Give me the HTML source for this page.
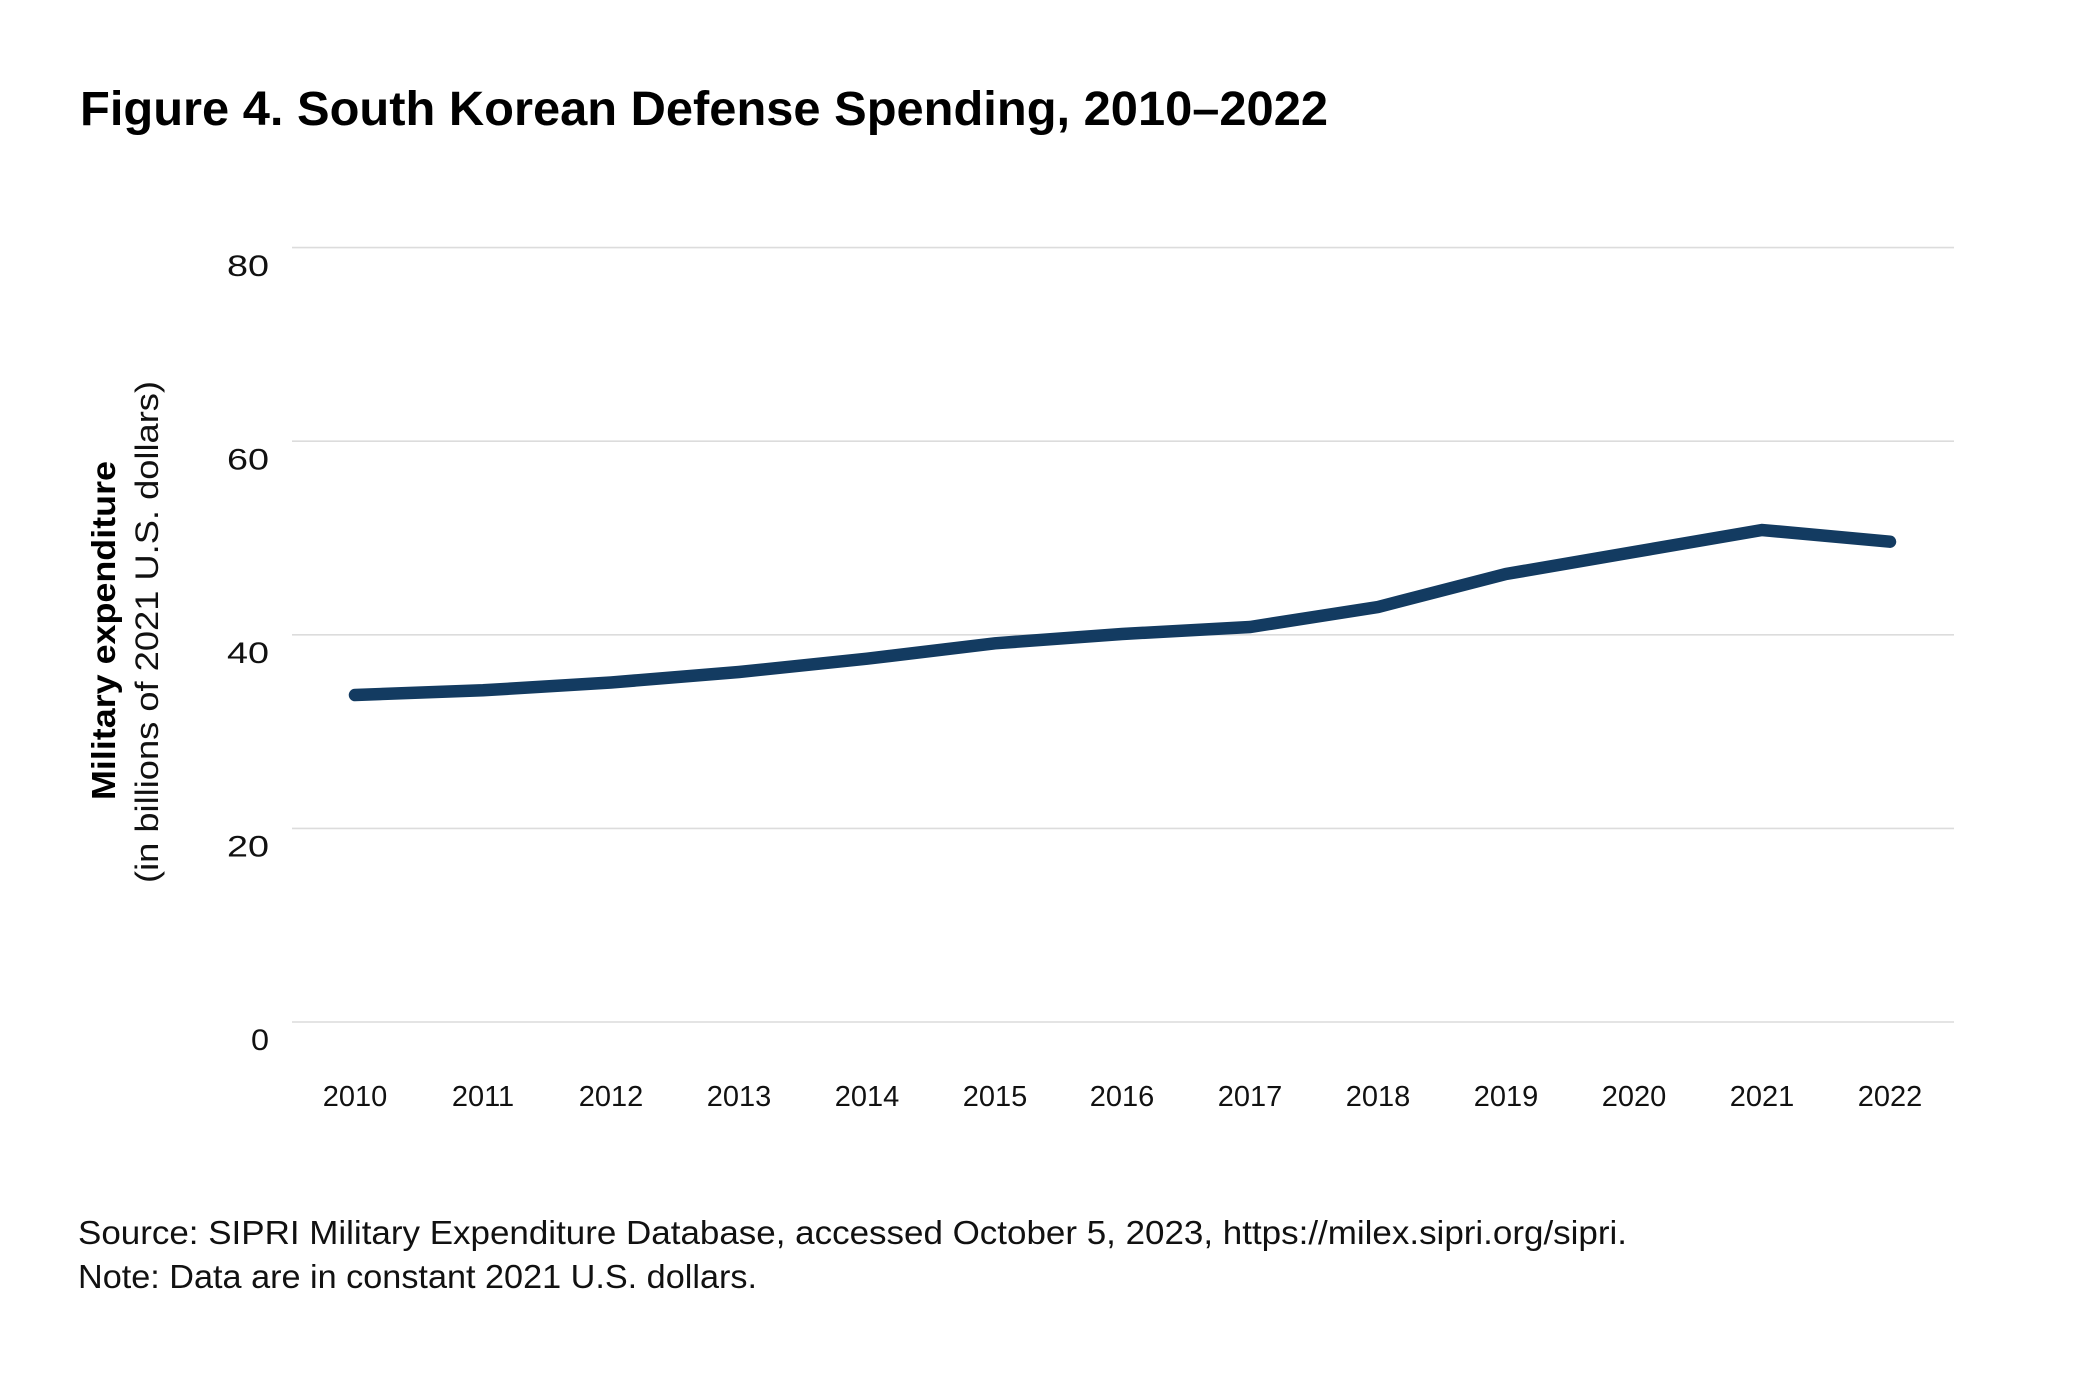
<!DOCTYPE html>
<html>
<head>
<meta charset="utf-8">
<style>
  html, body { margin: 0; padding: 0; background: #ffffff; }
  svg { display: block; }
  text { font-family: "Liberation Sans", "DejaVu Sans", sans-serif; }
</style>
</head>
<body>
<svg width="2084" height="1379" viewBox="0 0 2084 1379" xmlns="http://www.w3.org/2000/svg">
  <rect x="0" y="0" width="2084" height="1379" fill="#ffffff"/>

  <!-- Title -->
  <text x="80" y="125" font-size="48" font-weight="bold" fill="#000" textLength="1248" lengthAdjust="spacingAndGlyphs">Figure 4. South Korean Defense Spending, 2010–2022</text>

  <!-- Gridlines -->
  <g stroke="#dcdcdc" stroke-width="1.6">
    <line x1="292" y1="247.6" x2="1954" y2="247.6"/>
    <line x1="292" y1="441.2" x2="1954" y2="441.2"/>
    <line x1="292" y1="634.8" x2="1954" y2="634.8"/>
    <line x1="292" y1="828.4" x2="1954" y2="828.4"/>
    <line x1="292" y1="1022" x2="1954" y2="1022"/>
  </g>

  <!-- Y tick labels -->
  <g font-size="30" fill="#111" text-anchor="end">
    <text x="269" y="276" textLength="42" lengthAdjust="spacingAndGlyphs">80</text>
    <text x="269" y="469.5" textLength="42" lengthAdjust="spacingAndGlyphs">60</text>
    <text x="269" y="663" textLength="42" lengthAdjust="spacingAndGlyphs">40</text>
    <text x="269" y="856.5" textLength="42" lengthAdjust="spacingAndGlyphs">20</text>
    <text x="269" y="1050" textLength="18" lengthAdjust="spacingAndGlyphs">0</text>
  </g>

  <!-- Y axis title -->
  <text transform="translate(115,630.5) rotate(-90)" text-anchor="middle" font-size="33" font-weight="bold" fill="#000" textLength="339" lengthAdjust="spacingAndGlyphs">Military expenditure</text>
  <text transform="translate(158,632) rotate(-90)" text-anchor="middle" font-size="32" fill="#111" textLength="502" lengthAdjust="spacingAndGlyphs">(in billions of 2021 U.S. dollars)</text>

  <!-- X tick labels -->
  <g font-size="29" fill="#111" text-anchor="middle">
    <text x="355" y="1106">2010</text>
    <text x="483" y="1106">2011</text>
    <text x="611" y="1106">2012</text>
    <text x="739" y="1106">2013</text>
    <text x="867" y="1106">2014</text>
    <text x="995" y="1106">2015</text>
    <text x="1122" y="1106">2016</text>
    <text x="1250" y="1106">2017</text>
    <text x="1378" y="1106">2018</text>
    <text x="1506" y="1106">2019</text>
    <text x="1634" y="1106">2020</text>
    <text x="1762" y="1106">2021</text>
    <text x="1890" y="1106">2022</text>
  </g>

  <!-- Data line -->
  <polyline fill="none" stroke="#133b61" stroke-width="12.5" stroke-linecap="round" stroke-linejoin="miter"
    points="355,695 483,690.3 611,682.5 739,672 867,658.7 995,643.3 1122,634 1250,627 1378,607 1506,574 1634,552 1762,530 1890,541.7"/>

  <!-- Footer -->
  <text x="78" y="1244" font-size="33" fill="#111" textLength="1549" lengthAdjust="spacingAndGlyphs">Source: SIPRI Military Expenditure Database, accessed October 5, 2023, https://milex.sipri.org/sipri.</text>
  <text x="78" y="1288" font-size="33" fill="#111" textLength="679" lengthAdjust="spacingAndGlyphs">Note: Data are in constant 2021 U.S. dollars.</text>
</svg>
</body>
</html>
